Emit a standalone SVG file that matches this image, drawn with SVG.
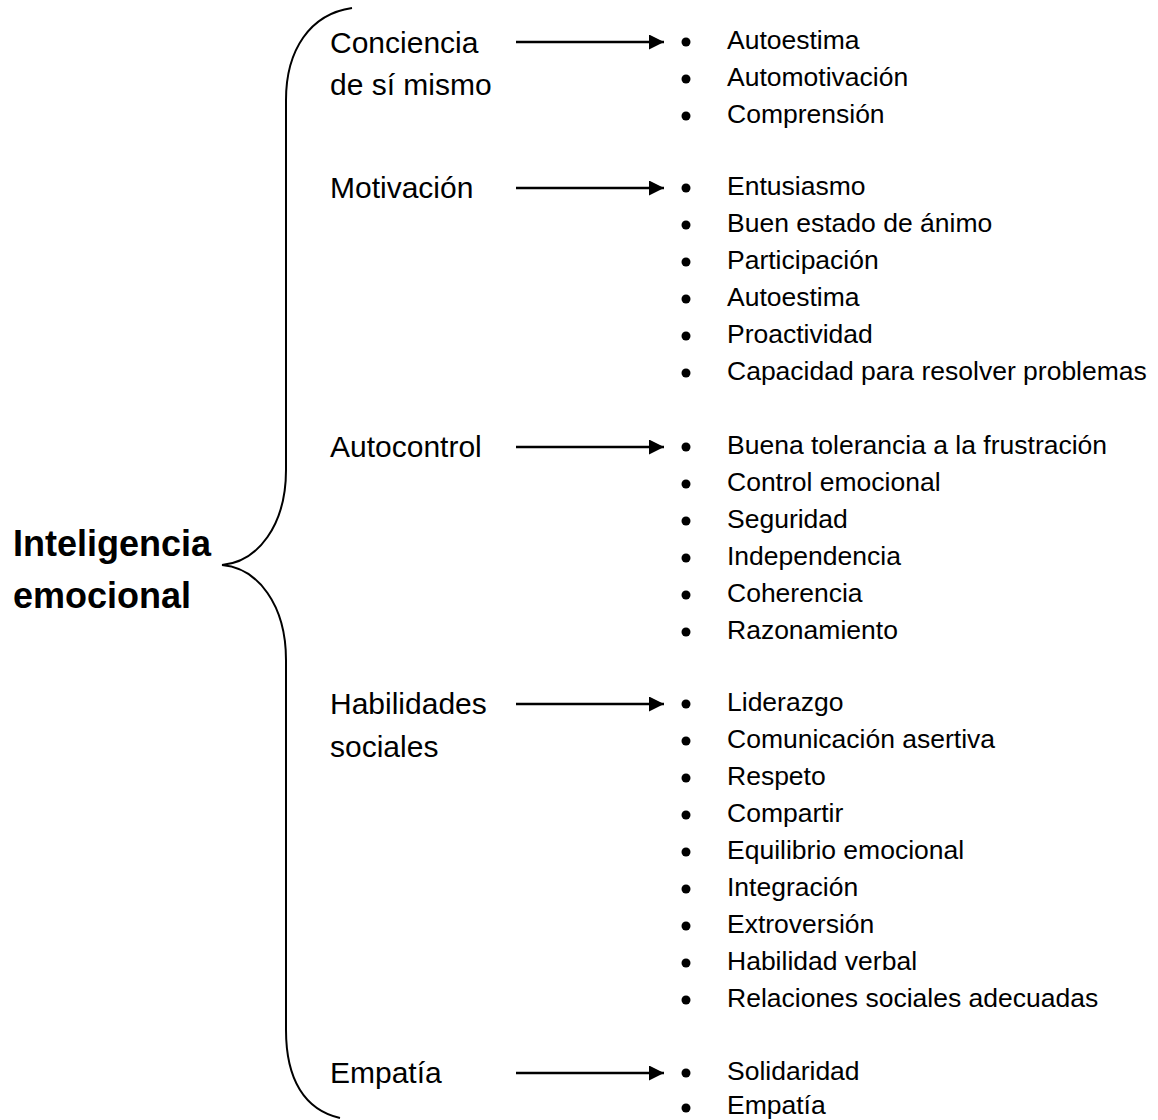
<svg xmlns="http://www.w3.org/2000/svg" width="1158" height="1120" viewBox="0 0 1158 1120">
<defs>
<style>
.h{font-family:"Liberation Sans",Arial,sans-serif;font-size:30px;fill:#000}
.i{font-family:"Liberation Sans",Arial,sans-serif;font-size:26.5px;fill:#000}
.t{font-family:"Liberation Sans",Arial,sans-serif;font-size:36px;font-weight:bold;fill:#000}
.b{fill:#000}
.c{stroke:#000;stroke-width:2.5;fill:none}
.br{stroke:#000;stroke-width:2;fill:none}
</style>
<marker id="ah" markerWidth="16" markerHeight="16" refX="15" refY="7.5" orient="auto" markerUnits="userSpaceOnUse" viewBox="0 0 16 16">
<path d="M0,0 L15,7.5 L0,15 Z" fill="#000"/>
</marker>
</defs>
<rect width="1158" height="1120" fill="#fff"/>
<g id="root">
<path class="br" d="M352,8 C310,14 286,50 286,100 L286,470 C286,525 258,562 222,565 C258,568 286,605 286,660 L286,1030 C286,1080 305,1110 340,1118"/>
<text class="t" x="13" y="556">Inteligencia</text>
<text class="t" x="13" y="608">emocional</text>
</g>
<g id="connectors">
<line class="c" x1="516" y1="42" x2="664" y2="42" marker-end="url(#ah)"/>
<line class="c" x1="516" y1="188" x2="664" y2="188" marker-end="url(#ah)"/>
<line class="c" x1="516" y1="447" x2="664" y2="447" marker-end="url(#ah)"/>
<line class="c" x1="516" y1="704" x2="664" y2="704" marker-end="url(#ah)"/>
<line class="c" x1="516" y1="1073" x2="664" y2="1073" marker-end="url(#ah)"/>
</g>
<g id="n-conciencia">
<text class="h" x="330" y="53">Conciencia</text>
<text class="h" x="330" y="95">de sí mismo</text>
<circle class="b" cx="686" cy="42" r="4.5"/><text class="i" x="727" y="49">Autoestima</text>
<circle class="b" cx="686" cy="79" r="4.5"/><text class="i" x="727" y="86">Automotivación</text>
<circle class="b" cx="686" cy="116" r="4.5"/><text class="i" x="727" y="123">Comprensión</text>
</g>
<g id="n-motivacion">
<text class="h" x="330" y="198">Motivación</text>
<circle class="b" cx="686" cy="188" r="4.5"/><text class="i" x="727" y="195">Entusiasmo</text>
<circle class="b" cx="686" cy="225" r="4.5"/><text class="i" x="727" y="232">Buen estado de ánimo</text>
<circle class="b" cx="686" cy="262" r="4.5"/><text class="i" x="727" y="269">Participación</text>
<circle class="b" cx="686" cy="299" r="4.5"/><text class="i" x="727" y="306">Autoestima</text>
<circle class="b" cx="686" cy="336" r="4.5"/><text class="i" x="727" y="343">Proactividad</text>
<circle class="b" cx="686" cy="373" r="4.5"/><text class="i" x="727" y="380">Capacidad para resolver problemas</text>
</g>
<g id="n-autocontrol">
<text class="h" x="330" y="457">Autocontrol</text>
<circle class="b" cx="686" cy="447" r="4.5"/><text class="i" x="727" y="454">Buena tolerancia a la frustración</text>
<circle class="b" cx="686" cy="484" r="4.5"/><text class="i" x="727" y="491">Control emocional</text>
<circle class="b" cx="686" cy="521" r="4.5"/><text class="i" x="727" y="528">Seguridad</text>
<circle class="b" cx="686" cy="558" r="4.5"/><text class="i" x="727" y="565">Independencia</text>
<circle class="b" cx="686" cy="595" r="4.5"/><text class="i" x="727" y="602">Coherencia</text>
<circle class="b" cx="686" cy="632" r="4.5"/><text class="i" x="727" y="639">Razonamiento</text>
</g>
<g id="n-habilidades">
<text class="h" x="330" y="714">Habilidades</text>
<text class="h" x="330" y="757">sociales</text>
<circle class="b" cx="686" cy="704" r="4.5"/><text class="i" x="727" y="711">Liderazgo</text>
<circle class="b" cx="686" cy="741" r="4.5"/><text class="i" x="727" y="748">Comunicación asertiva</text>
<circle class="b" cx="686" cy="778" r="4.5"/><text class="i" x="727" y="785">Respeto</text>
<circle class="b" cx="686" cy="815" r="4.5"/><text class="i" x="727" y="822">Compartir</text>
<circle class="b" cx="686" cy="852" r="4.5"/><text class="i" x="727" y="859">Equilibrio emocional</text>
<circle class="b" cx="686" cy="889" r="4.5"/><text class="i" x="727" y="896">Integración</text>
<circle class="b" cx="686" cy="926" r="4.5"/><text class="i" x="727" y="933">Extroversión</text>
<circle class="b" cx="686" cy="963" r="4.5"/><text class="i" x="727" y="970">Habilidad verbal</text>
<circle class="b" cx="686" cy="1000" r="4.5"/><text class="i" x="727" y="1007">Relaciones sociales adecuadas</text>
</g>
<g id="n-empatia">
<text class="h" x="330" y="1083">Empatía</text>
<circle class="b" cx="686" cy="1073" r="4.5"/><text class="i" x="727" y="1080">Solidaridad</text>
<circle class="b" cx="686" cy="1108" r="4.5"/><text class="i" x="727" y="1114">Empatía</text>
</g>
</svg>
